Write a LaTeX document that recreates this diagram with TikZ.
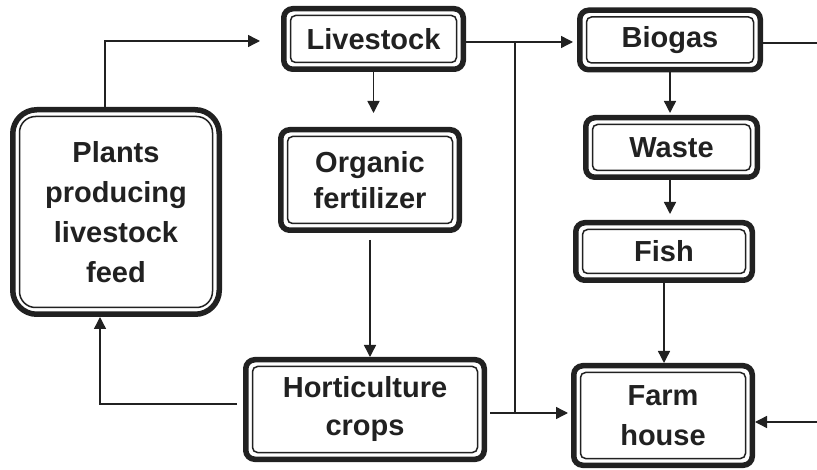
\documentclass[tikz,border=0pt]{standalone}
\usepackage{fontspec}
\setmainfont{Liberation Sans}
\usetikzlibrary{arrows.meta}
\definecolor{ink}{gray}{0.13}
\tikzset{
  outerbox/.style={draw=ink, line width=5.5pt, rounded corners=9pt, inner sep=0pt,
    fill=white, text=ink, align=center,
    font=\fontsize{29}{38}\selectfont\bfseries},
  innerline/.style={draw=ink, line width=1.5pt, rounded corners=5pt},
  conn/.style={draw=ink, line width=1.4pt},
  arr/.style={conn, -{Triangle[length=12pt,width=12pt]}},
}
\newcommand\innerframe[2][9.5pt]{%
  \draw[innerline] ([shift={(#1,#1)}]#2.south west) rectangle ([shift={(-#1,-#1)}]#2.north east);}
\begin{document}
\begin{tikzpicture}[x=1pt,y=-1pt]
\useasboundingbox (0,0) rectangle (817,470);

% boxes
\node[outerbox, minimum width=179.5pt, minimum height=60.5pt] (liv) at (373.5,39) {Livestock};
\innerframe{liv}
\node[outerbox, minimum width=180.5pt, minimum height=59.5pt] (bio) at (670,40) {Biogas};
\innerframe{bio}
\node[outerbox, minimum width=171.5pt, minimum height=59.5pt] (waste) at (671.5,147.5) {Waste};
\innerframe{waste}
\node[outerbox, minimum width=176.5pt, minimum height=57.5pt] (fish) at (664,251.5) {Fish};
\innerframe{fish}
\node[outerbox, minimum width=178.5pt, minimum height=99.5pt, font=\fontsize{29}{40}\selectfont\bfseries] (farm) at (663,415.5) {Farm\\house};
\innerframe{farm}
\node[outerbox, minimum width=238.5pt, minimum height=99.5pt] (hort) at (365,409.5) {Horticulture\\crops};
\innerframe{hort}
\node[outerbox, minimum width=178.5pt, minimum height=100.5pt, font=\fontsize{29}{36}\selectfont\bfseries] (org) at (370,180) {Organic\\fertilizer};
\innerframe{org}
\node[outerbox, rounded corners=24pt, minimum width=206.5pt, minimum height=204.5pt, font=\fontsize{29}{40}\selectfont\bfseries] (plants) at (116,212) {Plants\\producing\\livestock\\feed};
\draw[innerline, rounded corners=16pt] ([shift={(9.5pt,9.5pt)}]plants.south west) rectangle ([shift={(-9.5pt,-9.5pt)}]plants.north east);

% helper coordinates
\coordinate (tl) at (105,41);
\coordinate (br) at (515,42);
\coordinate (bb) at (515,413);
\coordinate (hl) at (100,404);
\coordinate (bioR) at (817,43);
\coordinate (farmR) at (817,422);

% connectors
\draw[arr, shorten >=21pt] (plants.north -| tl) -- (tl) -- (tl -| liv.west);
\draw[arr, shorten >=4pt] (liv.east |- br) -- (br -| bio.west);
\draw[conn] (br) -- (bb);
\draw[conn] (bio.east |- bioR) -- (bioR);
\draw[arr, shorten >=14pt] (liv.south) -- (liv.south |- org.north);
\draw[arr, shorten <=7pt] (org.south) -- (org.south |- hort.north);
\draw[arr, shorten <=6pt] (hort.west |- hl) -- (hl) -- (hl |- plants.south);
\draw[arr, shorten <=3pt, shorten >=3pt] (hort.east |- bb) -- (bb -| farm.west);
\draw[arr, shorten >=2pt] (bio.south) -- (bio.south |- waste.north);
\draw[arr, shorten >=6pt] (bio.south |- waste.south) -- (bio.south |- fish.north);
\draw[arr] (fish.south) -- (fish.south |- farm.north);
\draw[arr] (farmR) -- (farmR -| farm.east);
\end{tikzpicture}
\end{document}
